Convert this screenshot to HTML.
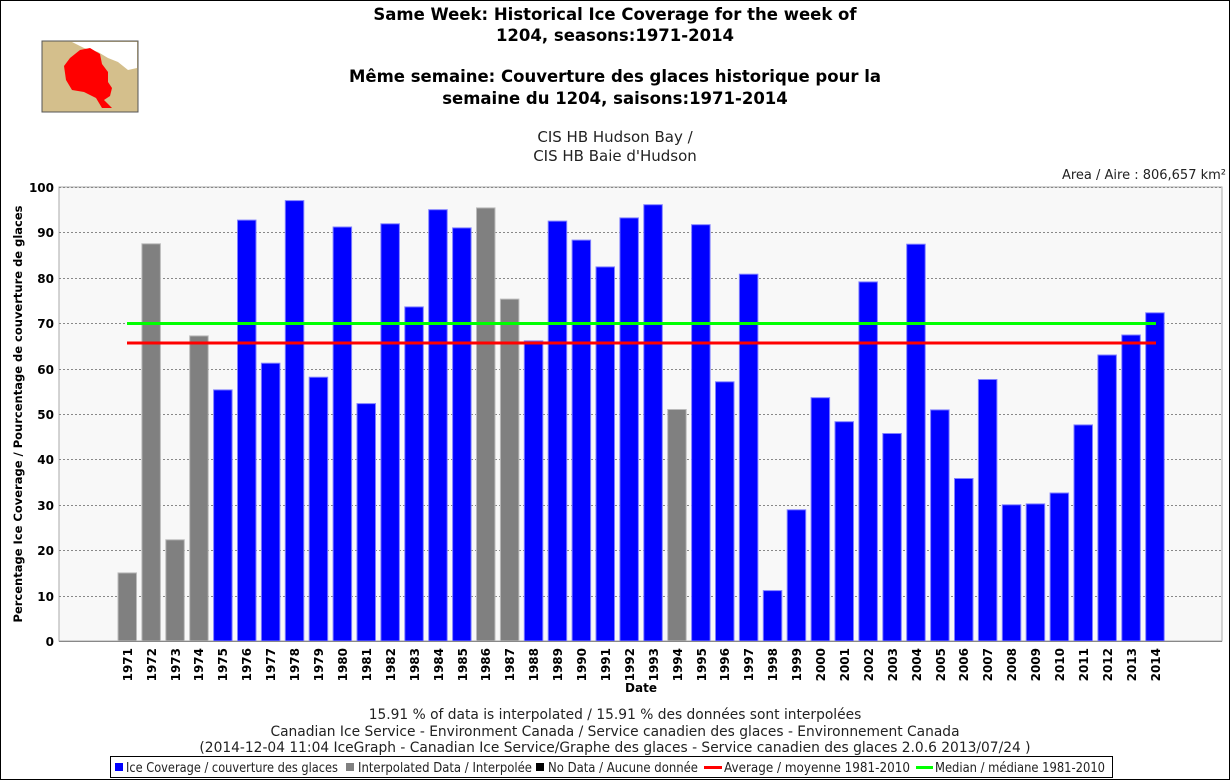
<!DOCTYPE html>
<html><head><meta charset="utf-8"><style>
html,body{margin:0;padding:0;background:#fff}
svg{display:block}
text{font-family:"DejaVu Sans","Liberation Sans",sans-serif}
</style></head><body>
<svg width="1230" height="780" viewBox="0 0 1230 780" xmlns="http://www.w3.org/2000/svg">
<rect x="0.5" y="0.5" width="1229" height="779" fill="#fff" stroke="#000"/>
<!-- map -->
<rect x="42" y="41" width="96" height="71" fill="#d4bf8c" stroke="#555"/>
<path d="M72,42 L137,42 L137,68 L128,70 L118,62 L108,58 L98,52 L84,48 Z" fill="#fff"/>
<path d="M70,58 L80,50 L90,48 L100,54 L102,64 L108,72 L108,82 L112,88 L110,96 L104,100 L112,108 L102,108 L96,98 L84,92 L72,90 L66,80 L64,66 Z" fill="#f00"/>
<!-- titles -->
<g font-weight="bold" font-size="16.5" text-anchor="middle" fill="#000">
<text x="615" y="20">Same Week: Historical Ice Coverage for the week of</text>
<text x="615" y="41">1204, seasons:1971-2014</text>
<text x="615" y="82">Même semaine: Couverture des glaces historique pour la</text>
<text x="615" y="104">semaine du 1204, saisons:1971-2014</text>
</g>
<g font-size="15" text-anchor="middle" fill="#222">
<text x="615" y="142">CIS HB Hudson Bay /</text>
<text x="615" y="161">CIS HB Baie d'Hudson</text>
</g>
<text x="1226" y="179" font-size="13" text-anchor="end" fill="#222">Area / Aire : 806,657 km²</text>
<!-- plot -->
<rect x="59" y="187" width="1163" height="454" fill="#f8f8f8" stroke="#aaa"/>
<g stroke="#888" stroke-dasharray="2,2" stroke-width="1">
<line x1="59" x2="1222" y1="187.5" y2="187.5"/>
<line x1="59" x2="1222" y1="232.5" y2="232.5"/>
<line x1="59" x2="1222" y1="278.5" y2="278.5"/>
<line x1="59" x2="1222" y1="323.5" y2="323.5"/>
<line x1="59" x2="1222" y1="369.5" y2="369.5"/>
<line x1="59" x2="1222" y1="414.5" y2="414.5"/>
<line x1="59" x2="1222" y1="459.5" y2="459.5"/>
<line x1="59" x2="1222" y1="505.5" y2="505.5"/>
<line x1="59" x2="1222" y1="550.5" y2="550.5"/>
<line x1="59" x2="1222" y1="596.5" y2="596.5"/>
</g>
<g font-weight="bold" font-size="12" text-anchor="end" fill="#000">
<text x="54" y="192">100</text><text x="54" y="237">90</text><text x="54" y="283">80</text><text x="54" y="328">70</text><text x="54" y="374">60</text><text x="54" y="419">50</text><text x="54" y="464">40</text><text x="54" y="510">30</text><text x="54" y="555">20</text><text x="54" y="601">10</text><text x="54" y="646">0</text>
</g>
<text transform="translate(22,414) rotate(-90)" font-weight="bold" font-size="11.5" text-anchor="middle">Percentage Ice Coverage / Pourcentage de couverture de glaces</text>
<g id="bars"></g>
<line x1="127" x2="1156" y1="343" y2="343" stroke="#f00" stroke-width="3"/>
<line x1="127" x2="1156" y1="323.5" y2="323.5" stroke="#0f0" stroke-width="3"/>
<line x1="59" x2="1222" y1="641.5" y2="641.5" stroke="#888"/>
<g font-weight="bold" font-size="12" text-anchor="end" fill="#000">
<text transform="translate(132,648) rotate(-90)">1971</text>
<text transform="translate(156,648) rotate(-90)">1972</text>
<text transform="translate(180,648) rotate(-90)">1973</text>
<text transform="translate(203,648) rotate(-90)">1974</text>
<text transform="translate(227,648) rotate(-90)">1975</text>
<text transform="translate(251,648) rotate(-90)">1976</text>
<text transform="translate(275,648) rotate(-90)">1977</text>
<text transform="translate(299,648) rotate(-90)">1978</text>
<text transform="translate(323,648) rotate(-90)">1979</text>
<text transform="translate(347,648) rotate(-90)">1980</text>
<text transform="translate(371,648) rotate(-90)">1981</text>
<text transform="translate(395,648) rotate(-90)">1982</text>
<text transform="translate(419,648) rotate(-90)">1983</text>
<text transform="translate(443,648) rotate(-90)">1984</text>
<text transform="translate(467,648) rotate(-90)">1985</text>
<text transform="translate(490,648) rotate(-90)">1986</text>
<text transform="translate(514,648) rotate(-90)">1987</text>
<text transform="translate(538,648) rotate(-90)">1988</text>
<text transform="translate(562,648) rotate(-90)">1989</text>
<text transform="translate(586,648) rotate(-90)">1990</text>
<text transform="translate(610,648) rotate(-90)">1991</text>
<text transform="translate(634,648) rotate(-90)">1992</text>
<text transform="translate(658,648) rotate(-90)">1993</text>
<text transform="translate(682,648) rotate(-90)">1994</text>
<text transform="translate(706,648) rotate(-90)">1995</text>
<text transform="translate(729,648) rotate(-90)">1996</text>
<text transform="translate(753,648) rotate(-90)">1997</text>
<text transform="translate(777,648) rotate(-90)">1998</text>
<text transform="translate(801,648) rotate(-90)">1999</text>
<text transform="translate(825,648) rotate(-90)">2000</text>
<text transform="translate(849,648) rotate(-90)">2001</text>
<text transform="translate(873,648) rotate(-90)">2002</text>
<text transform="translate(897,648) rotate(-90)">2003</text>
<text transform="translate(921,648) rotate(-90)">2004</text>
<text transform="translate(945,648) rotate(-90)">2005</text>
<text transform="translate(968,648) rotate(-90)">2006</text>
<text transform="translate(992,648) rotate(-90)">2007</text>
<text transform="translate(1016,648) rotate(-90)">2008</text>
<text transform="translate(1040,648) rotate(-90)">2009</text>
<text transform="translate(1064,648) rotate(-90)">2010</text>
<text transform="translate(1088,648) rotate(-90)">2011</text>
<text transform="translate(1112,648) rotate(-90)">2012</text>
<text transform="translate(1136,648) rotate(-90)">2013</text>
<text transform="translate(1160,648) rotate(-90)">2014</text>
</g>
<text x="641" y="692" font-weight="bold" font-size="12" text-anchor="middle">Date</text>
<g font-size="13.8" text-anchor="middle" fill="#222">
<text x="615" y="719">15.91 % of data is interpolated / 15.91 % des données sont interpolées</text>
<text x="615" y="736">Canadian Ice Service - Environment Canada / Service canadien des glaces - Environnement Canada</text>
<text x="615" y="752">(2014-12-04 11:04 IceGraph - Canadian Ice Service/Graphe des glaces - Service canadien des glaces 2.0.6 2013/07/24 )</text>
</g>
<rect x="110.5" y="756.5" width="1002" height="21" fill="#fff" stroke="#000"/>
<g font-size="13" fill="#222">
<rect x="115" y="763" width="8" height="8" fill="#00f"/>
<text x="126" y="772" textLength="212" lengthAdjust="spacingAndGlyphs">Ice Coverage / couverture des glaces</text>
<rect x="346" y="763" width="8" height="8" fill="#808080"/>
<text x="358" y="772" textLength="174" lengthAdjust="spacingAndGlyphs">Interpolated Data / Interpolée</text>
<rect x="536" y="763" width="8" height="8" fill="#000"/>
<text x="548" y="772" textLength="150" lengthAdjust="spacingAndGlyphs">No Data / Aucune donnée</text>
<rect x="704" y="766" width="18" height="3" fill="#f00"/>
<text x="724" y="772" textLength="186" lengthAdjust="spacingAndGlyphs">Average / moyenne 1981-2010</text>
<rect x="916" y="766" width="17" height="3" fill="#0f0"/>
<text x="935" y="772" textLength="170" lengthAdjust="spacingAndGlyphs">Median / médiane 1981-2010</text>
</g>
</svg>
<script>
var v=[15,87.5,22.3,67.2,55.3,92.7,61.2,97,58.1,91.2,52.3,91.9,73.6,95,91,95.4,75.3,66.1,92.5,88.3,82.4,93.2,96.1,51,91.7,57.1,80.8,11.1,28.9,53.6,48.3,79.1,45.7,87.4,50.9,35.8,57.6,30,30.2,32.6,47.6,63,67.4,72.3];
var gray={0:1,1:1,2:1,3:1,15:1,16:1,23:1};
var g=document.getElementById('bars'),s='';
for(var i=0;i<v.length;i++){var x=118+i*23.9,h=v[i]*4.54,y=641-h;
var f=gray[i]?'#808080':'#0000ff',st=gray[i]?'#bbb':'#8080ff';
s+='<rect x="'+x.toFixed(1)+'" y="'+y.toFixed(1)+'" width="18.5" height="'+h.toFixed(1)+'" fill="'+f+'" stroke="'+st+'" stroke-width="1"/>';}
g.innerHTML=s;
</script>
</body></html>
